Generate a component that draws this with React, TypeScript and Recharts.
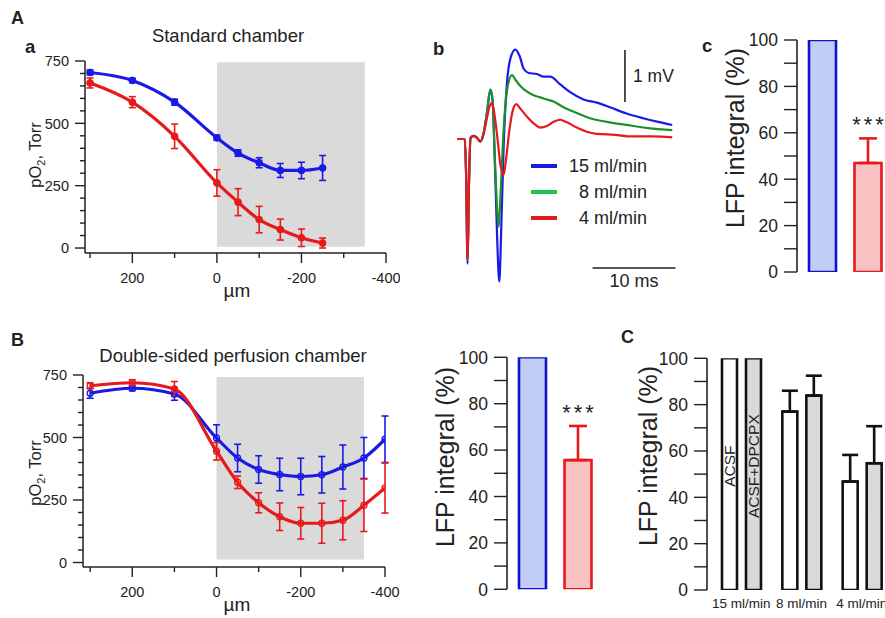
import React from 'react';
import {
  LineChart, Line, XAxis, YAxis, ErrorBar, ReferenceArea, ReferenceLine,
  BarChart, Bar, Cell, LabelList, Legend,
} from 'recharts';

const FONT = '"Liberation Sans", Arial, Helvetica, sans-serif';
const INK = '#222';
const BLUE = '#1a1ae6';
const RED = '#e8191c';
const SHADE = '#dadada';

// A a: standard chamber, depth in µm vs pO2 (Torr)
const depthStd = [300, 200, 100, 0, -50, -100, -150, -200, -250];
const po2StdFast = [704, 672, 585, 442, 381, 342, 311, 311, 321];
const po2StdFastSem = [10, 8, 12, 10, 13, 20, 28, 33, 50];
const po2StdSlow = [662, 585, 448, 261, 184, 114, 74, 41, 20];
const po2StdSlowSem = [20, 22, 49, 53, 54, 53, 42, 35, 20];

// B: double-sided perfusion chamber
const depthDbl = [300, 200, 100, 0, -50, -100, -150, -200, -250, -300, -350, -400];
const po2DblFast = [677, 697, 674, 498, 418, 372, 352, 344, 351, 382, 418, 493];
const po2DblFastSem = [20, 10, 25, 53, 55, 55, 65, 73, 73, 88, 82, 93];
const po2DblSlow = [707, 719, 694, 445, 321, 239, 183, 157, 157, 169, 229, 298];
const po2DblSlowSem = [12, 12, 30, 35, 25, 40, 55, 63, 80, 78, 105, 100];

const depthTicks = [300, 200, 100, 0, -100, -200, -300, -400];
const po2Ticks = [0, 50, 100, 150, 200, 250, 300, 350, 400, 450, 500, 550, 600, 650, 700, 750];
const pctTicks = [0, 10, 20, 30, 40, 50, 60, 70, 80, 90, 100];

// A b: LFP traces, [time ms, mV]
const trace15: [number, number][] = [
  [0, 0], [0.9, 0], [1.05, -0.6], [1.24, -2.4], [1.4, -0.9], [1.6, 0.02], [2.0, 0.06], [2.4, 0.02],
  [2.77, -0.05], [3.17, 0.11], [3.57, 0.5], [3.98, 0.95], [4.25, 0.75], [4.5, -0.3], [4.8, -1.9],
  [5.06, -2.74], [5.3, -1.7], [5.58, -0.15], [5.98, 1.07], [6.4, 1.55], [6.99, 1.72], [7.5, 1.6],
  [8.0, 1.35], [8.6, 1.27], [9.6, 1.25], [10.4, 1.2], [11.2, 1.2], [12.4, 1.05], [13.6, 0.9],
  [15.2, 0.76], [16.8, 0.7], [18.4, 0.61], [20.4, 0.49], [22.4, 0.4], [24.2, 0.33], [25.9, 0.27],
];
const trace8: [number, number][] = [
  [0, 0], [0.9, 0], [1.05, -0.6], [1.24, -2.33], [1.4, -0.9], [1.6, 0.02], [2.0, 0.06], [2.4, 0.02],
  [2.77, -0.05], [3.17, 0.11], [3.57, 0.5], [3.98, 0.95], [4.25, 0.75], [4.5, -0.3], [4.75, -1.2],
  [4.98, -1.69], [5.2, -1.1], [5.58, 0.17], [6.0, 0.95], [6.59, 1.23], [7.0, 1.14], [7.6, 1.02],
  [8.4, 0.91], [9.2, 0.84], [10.0, 0.8], [10.8, 0.76], [11.6, 0.72], [12.8, 0.61], [14.4, 0.5],
  [16.0, 0.4], [18.0, 0.33], [20.4, 0.27], [23.0, 0.21], [25.9, 0.17],
];
const trace4: [number, number][] = [
  [0, 0], [0.9, 0], [1.05, -0.6], [1.24, -2.33], [1.4, -0.9], [1.6, 0.02], [2.0, 0.06], [2.4, 0.02],
  [2.77, -0.05], [3.17, 0.1], [3.57, 0.4], [3.9, 0.63], [4.18, 0.69], [4.5, 0.45], [4.86, -0.02],
  [5.2, -0.5], [5.58, -0.69], [5.9, -0.35], [6.3, 0.2], [6.7, 0.56], [7.1, 0.67], [7.6, 0.58],
  [8.4, 0.43], [9.2, 0.3], [10.0, 0.22], [10.8, 0.25], [11.6, 0.33], [12.4, 0.37], [13.2, 0.32],
  [14.4, 0.22], [15.6, 0.14], [16.8, 0.1], [19.0, 0.08], [21.0, 0.05], [23.5, 0.05], [25.9, 0.03],
];
const traceLabels = ['15 ml/min', '8 ml/min', '4 ml/min'];
const traceColors = [BLUE, '#1f8f2c', RED];
const legendColors = [BLUE, '#22c04c', RED];

// A c / B right: LFP integral (%)
const lfpRates = ['15 ml/min', '4 ml/min'];
const lfpStd = [100, 47];
const lfpStdSem = [null, 10.6];
const lfpDbl = [100, 55.7];
const lfpDblSem = [null, 14.7];
const lfpStars = ['', '***'];
const lfpFills = ['#c2cdf6', '#f9c2c2'];
const lfpStrokes = ['#1212cc', RED];

// C: ACSF vs ACSF+DPCPX
const rates = ['15 ml/min', '8 ml/min', '4 ml/min'];
const lfpAcsf = [100, 77, 46.8];
const lfpAcsfSem = [null, 9, 11.5];
const lfpDpcpx = [100, 83.9, 54.7];
const lfpDpcpxSem = [null, 8.6, 16];

function LevelTick(props: any) {
  const { x, y, payload, every, majorLen, minorLen, gap, size } = props;
  const major = payload.value % every === 0;
  return (
    <g>
      <line x1={x - (major ? majorLen : minorLen)} x2={x} y1={y} y2={y} stroke={INK} strokeWidth={1.4} />
      {major && (
        <text x={x - gap} y={y} dy="0.36em" textAnchor="end" fontSize={size} fill={INK} fontFamily={FONT}>
          {payload.value}
        </text>
      )}
    </g>
  );
}

function DepthTick(props: any) {
  const { x, y, payload, labelDy } = props;
  const labelled = payload.value % 200 === 0;
  return (
    <g>
      <line x1={x} x2={x} y1={y} y2={y + (labelled ? 10 : 5)} stroke={INK} strokeWidth={1.4} />
      {labelled && (
        <text x={x} y={y + labelDy} dy="0.36em" textAnchor="middle" fontSize={14.5} fill={INK} fontFamily={FONT}>
          {payload.value}
        </text>
      )}
    </g>
  );
}

function RateTick(props: any) {
  const { x, y, payload } = props;
  return (
    <text x={x} y={y + 13} dy="0.36em" textAnchor="middle" fontSize={13.5} fill={INK} fontFamily={FONT}>
      {payload.value}
    </text>
  );
}

const po2Label = (cx: number, cy: number) => () => (
  <text transform={`rotate(-90 ${cx} ${cy})`} x={cx} y={cy} dy="0.36em" textAnchor="middle"
    fontSize={16.5} fill={INK} fontFamily={FONT}>
    pO<tspan fontSize={11} dy={4}>2</tspan><tspan dy={-4}>, Torr</tspan>
  </text>
);

const plainLabel = (text: string, cx: number, cy: number, size: number, rotate = false) => () => (
  <text transform={rotate ? `rotate(-90 ${cx} ${cy})` : undefined} x={cx} y={cy} dy="0.36em"
    textAnchor="middle" fontSize={size} fill={INK} fontFamily={FONT}>
    {text}
  </text>
);

function StarsLabel(props: any) {
  const { value, rows } = props;
  if (!value) return null;
  const vb = props.viewBox ?? props;
  const row = rows[props.index] ?? rows.find((r: any) => r.stars === value);
  const pxPerUnit = vb.height / row.value;
  const errTop = vb.y - row.sem[1] * pxPerUnit;
  return (
    <text x={vb.x + vb.width / 2 + 1.5} y={errTop - 19 + 12.6} textAnchor="middle" fontSize={22}
      letterSpacing={3} fill={INK} fontFamily={FONT}>
      {value}
    </text>
  );
}

function InsideTag(props: any) {
  const { value } = props;
  if (!value) return null;
  const vb = props.viewBox ?? props;
  const cx = vb.x + vb.width / 2;
  const cy = vb.y + vb.height / 2 - 8;
  return (
    <text transform={`rotate(-90 ${cx} ${cy})`} x={cx} y={cy} dy="0.36em" textAnchor="middle"
      fontSize={15.5} fill={INK} fontFamily={FONT}>
      {value}
    </text>
  );
}

function TraceLegend() {
  return (
    <div style={{ fontFamily: FONT, color: INK }}>
      {traceLabels.map((label, i) => (
        <div key={label} style={{ display: 'flex', alignItems: 'center', height: 26 }}>
          <div style={{ width: 26, height: 3.5, background: legendColors[i] }} />
          <div style={{ width: 90, textAlign: 'right', fontSize: 18 }}>{label}</div>
        </div>
      ))}
    </div>
  );
}

function DepthChart(props: { rows: any[]; yMin: number; openDots: boolean; margin: any;
  yLabelY: number; umY: number }) {
  const { rows, yMin, openDots, margin, yLabelY, umY } = props;
  const dot = (c: string) => (openDots
    ? { r: 3, fill: 'none', stroke: c, strokeWidth: 1.3 }
    : { r: 3.4, fill: c, stroke: c, strokeWidth: 1 });
  return (
    <LineChart width={400} height={310} data={rows} margin={margin}>
      <ReferenceArea x1={0} x2={-350} y1={openDots ? 12 : 5} y2={openDots ? 742 : 745} fill={SHADE}
        fillOpacity={1} stroke="none" ifOverflow="visible" />
      <XAxis type="number" dataKey="depth" domain={[-400, openDots ? 317 : 312]} reversed allowDataOverflow
        ticks={depthTicks} interval={0} tickSize={0} tickMargin={0} tickLine={false} height={30}
        axisLine={{ stroke: INK, strokeWidth: 1.5 }}
        tick={<DepthTick labelDy={25} />}
        label={plainLabel('µm', 237, umY, 19)} />
      <YAxis type="number" domain={[yMin, 750]} allowDataOverflow ticks={po2Ticks} interval={0}
        tickSize={0} tickMargin={0} tickLine={false} width={45}
        axisLine={{ stroke: INK, strokeWidth: 1.5 }}
        tick={<LevelTick every={250} majorLen={10} minorLen={5} gap={16} size={14.5} />}
        label={po2Label(35, yLabelY)} />
      <Line type="monotone" dataKey="fast" stroke={BLUE} strokeWidth={3.2} dot={dot(BLUE)}
        isAnimationActive={false}>
        <ErrorBar dataKey="fastSem" direction="y" width={3.5} stroke={BLUE} strokeWidth={1.6} />
      </Line>
      <Line type="monotone" dataKey="slow" stroke={RED} strokeWidth={3.2} dot={dot(RED)}
        isAnimationActive={false}>
        <ErrorBar dataKey="slowSem" direction="y" width={3.5} stroke={RED} strokeWidth={1.6} />
      </Line>
    </LineChart>
  );
}

function LfpChart(props: { rows: any[]; margin: any; width: number; labelX: number; labelY: number }) {
  const { rows, margin, width, labelX, labelY } = props;
  return (
    <BarChart width={width} height={300} data={rows} margin={margin}>
      <XAxis dataKey="rate" hide padding={{ left: 3, right: 0 }} />
      <YAxis type="number" domain={[0, 100]} allowDataOverflow ticks={pctTicks} interval={0}
        tickSize={0} tickMargin={0} tickLine={false} width={60}
        axisLine={{ stroke: INK, strokeWidth: 1.6 }}
        tick={<LevelTick every={20} majorLen={13} minorLen={13} gap={19} size={17.5} />}
        label={plainLabel('LFP integral (%)', labelX, labelY, 25, true)} />
      <Bar dataKey="value" barSize={27} strokeWidth={2.6} isAnimationActive={false}>
        {rows.map((r, i) => (
          <Cell key={r.rate} fill={lfpFills[i]} stroke={lfpStrokes[i]} />
        ))}
        <ErrorBar dataKey="sem" direction="y" width={9} stroke={RED} strokeWidth={2.6} />
        <LabelList dataKey="stars" content={<StarsLabel rows={rows} />} />
      </Bar>
    </BarChart>
  );
}

export default function App() {
  const stdRows = depthStd.map((depth, i) => ({
    depth, fast: po2StdFast[i], fastSem: po2StdFastSem[i], slow: po2StdSlow[i], slowSem: po2StdSlowSem[i],
  }));
  const dblRows = depthDbl.map((depth, i) => ({
    depth, fast: po2DblFast[i], fastSem: po2DblFastSem[i], slow: po2DblSlow[i], slowSem: po2DblSlowSem[i],
  }));
  const traces = [trace15, trace8, trace4].map((tr) => tr.map(([t, v]) => ({ t, v })));
  const mkLfp = (vals: number[], sems: (number | null)[]) => lfpRates.map((rate, i) => ({
    rate, value: vals[i], sem: sems[i] == null ? null : [0, sems[i]], stars: lfpStars[i],
  }));
  const stdLfp = mkLfp(lfpStd, lfpStdSem);
  const dblLfp = mkLfp(lfpDbl, lfpDblSem);
  const drugRows = rates.map((rate, i) => ({
    rate,
    acsf: lfpAcsf[i],
    acsfSem: lfpAcsfSem[i] == null ? null : [0, lfpAcsfSem[i]],
    acsfTag: i === 0 ? 'ACSF' : '',
    dpcpx: lfpDpcpx[i],
    dpcpxSem: lfpDpcpxSem[i] == null ? null : [0, lfpDpcpxSem[i]],
    dpcpxTag: i === 0 ? 'ACSF+DPCPX' : '',
  }));

  const abs = (left: number, top: number): React.CSSProperties => ({ position: 'absolute', left, top });

  return (
    <div style={{ position: 'absolute', left: 0, top: 0, width: 885, height: 618, overflow: 'hidden',
      background: '#fff', fontFamily: FONT }}>
      <svg width={885} height={618} style={abs(0, 0)}>
        <g fontFamily={FONT} fill={INK}>
          <text x={11} y={24} fontSize={18} fontWeight="bold">A</text>
          <text x={25} y={53} fontSize={18.5} fontWeight="bold">a</text>
          <text x={433} y={55} fontSize={18.5} fontWeight="bold">b</text>
          <text x={702} y={52} fontSize={18.5} fontWeight="bold">c</text>
          <text x={11} y={346} fontSize={18} fontWeight="bold">B</text>
          <text x={621} y={343} fontSize={18} fontWeight="bold">C</text>
          <text x={228} y={42} fontSize={18.5} textAnchor="middle">Standard chamber</text>
          <text x={233} y={361.5} fontSize={18.5} textAnchor="middle">Double-sided perfusion chamber</text>
        </g>
      </svg>

      <div style={abs(0, 0)}>
        <DepthChart rows={stdRows} yMin={-20} openDots={false}
          margin={{ top: 61, right: 14, bottom: 27, left: 40 }} yLabelY={155} umY={290} />
      </div>

      <div style={abs(0, 320)}>
        <DepthChart rows={dblRows} yMin={-18} openDots
          margin={{ top: 55, right: 15, bottom: 33, left: 38 }} yLabelY={153} umY={284} />
      </div>

      <div style={abs(449, 35)}>
        <LineChart width={249} height={260} margin={{ top: 0, right: 0, bottom: 0, left: 0 }}>
          <XAxis type="number" dataKey="t" domain={[-1, 29]} allowDataOverflow hide />
          <YAxis type="number" domain={[-3, 2]} allowDataOverflow hide />
          {traces.map((data, i) => (
            <Line key={traceLabels[i]} data={data} dataKey="v" name={traceLabels[i]} type="monotone"
              stroke={traceColors[i]} strokeWidth={2.2} dot={false} isAnimationActive={false} />
          ))}
          <ReferenceLine segment={[{ x: 20.2, y: 0.71 }, { x: 20.2, y: 1.71 }]} stroke={INK} strokeWidth={1.6}
            label={{ value: '1 mV', position: 'right', offset: 8, fontSize: 17.5, fill: INK, fontFamily: FONT }} />
          <ReferenceLine segment={[{ x: 16.3, y: -2.48 }, { x: 26.3, y: -2.48 }]} stroke={INK} strokeWidth={1.6}
            label={{ value: '10 ms', position: 'bottom', offset: 6, fontSize: 18, fill: INK, fontFamily: FONT }} />
          <Legend layout="vertical" align="center" verticalAlign="middle" content={<TraceLegend />}
            wrapperStyle={{ left: 82, top: 118, width: 'auto' }} />
        </LineChart>
      </div>

      <div style={abs(700, 0)}>
        <LfpChart rows={stdLfp} width={191} margin={{ top: 40, right: 0, bottom: 28, left: 37 }}
          labelX={35} labelY={138} />
      </div>

      <div style={abs(420, 320)}>
        <LfpChart rows={dblLfp} width={181} margin={{ top: 37.3, right: 0, bottom: 30.7, left: 27 }}
          labelX={25} labelY={137} />
      </div>

      <div style={abs(620, 320)}>
        <BarChart width={272} height={300} data={drugRows} barSize={15} barGap={9}
          margin={{ top: 38.3, right: 0, bottom: 0, left: 27 }}>
          <XAxis dataKey="rate" axisLine={false} tickLine={false} tickSize={0} tickMargin={0} height={30}
            interval={0} padding={{ left: 4, right: 0 }} tick={<RateTick />} />
          <YAxis type="number" domain={[0, 100]} allowDataOverflow ticks={pctTicks} interval={0}
            tickSize={0} tickMargin={0} tickLine={false} width={60}
            axisLine={{ stroke: INK, strokeWidth: 1.6 }}
            tick={<LevelTick every={20} majorLen={13} minorLen={13} gap={19} size={17.5} />}
            label={plainLabel('LFP integral (%)', 27.5, 136, 25, true)} />
          <Bar dataKey="acsf" name="ACSF" fill="#fff" stroke="#111" strokeWidth={2.6} isAnimationActive={false}>
            <ErrorBar dataKey="acsfSem" direction="y" width={8} stroke="#111" strokeWidth={2.6} />
            <LabelList dataKey="acsfTag" content={<InsideTag />} />
          </Bar>
          <Bar dataKey="dpcpx" name="ACSF+DPCPX" fill="#d9d9d9" stroke="#111" strokeWidth={2.6}
            isAnimationActive={false}>
            <ErrorBar dataKey="dpcpxSem" direction="y" width={8} stroke="#111" strokeWidth={2.6} />
            <LabelList dataKey="dpcpxTag" content={<InsideTag />} />
          </Bar>
        </BarChart>
      </div>
    </div>
  );
}
